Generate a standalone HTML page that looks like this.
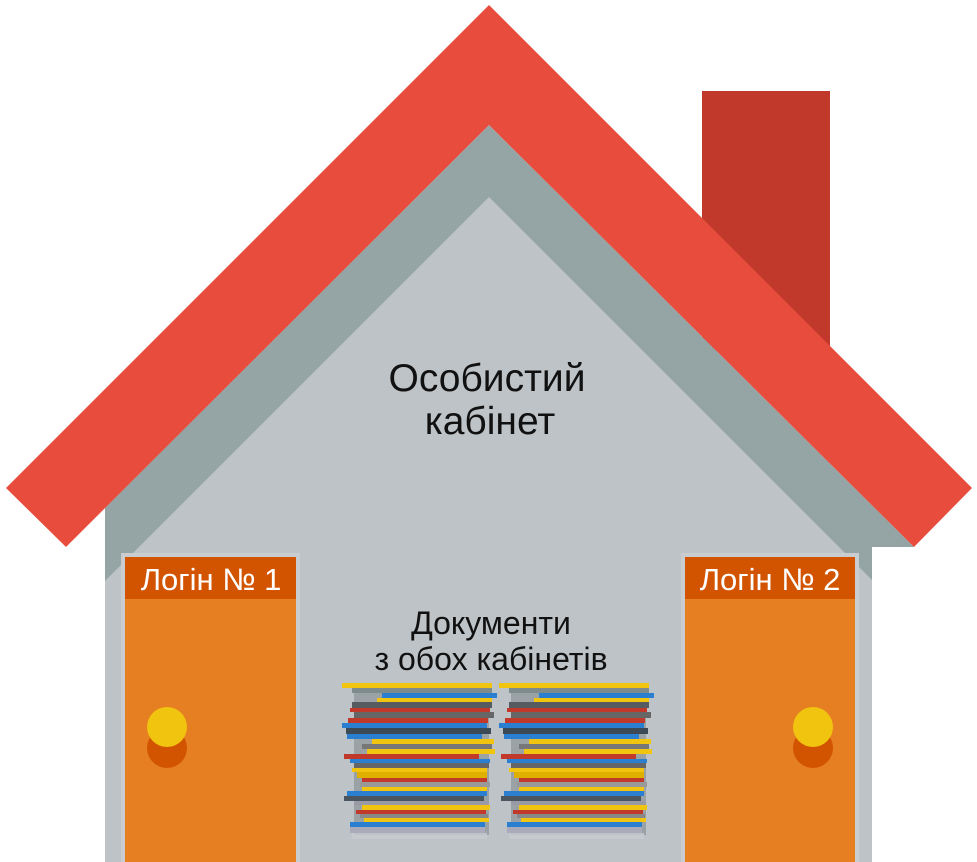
<!DOCTYPE html>
<html><head><meta charset="utf-8"><style>
html,body{margin:0;padding:0;background:#fff;width:977px;height:862px;overflow:hidden}
svg{display:block}
text{font-family:"Liberation Sans",sans-serif}
</style></head><body>
<svg width="977" height="862" viewBox="0 0 977 862" xmlns="http://www.w3.org/2000/svg">
<defs>
<g id="stack">
<rect x="12" y="2" width="135" height="150" fill="#5d6468" opacity=".35"/>
<rect x="0" y="0" width="150" height="5" fill="#f1c40f"/>
<rect x="10" y="5" width="140" height="5" fill="#7f8c8d"/>
<rect x="40" y="10" width="115" height="5" fill="#2a7fd0"/>
<rect x="35" y="15" width="115" height="4" fill="#f1c40f"/>
<rect x="10" y="19" width="140" height="6" fill="#555b60"/>
<rect x="8" y="25" width="140" height="4" fill="#c0392b"/>
<rect x="12" y="29" width="140" height="6" fill="#666"/>
<rect x="6" y="35" width="140" height="5" fill="#c0392b"/>
<rect x="0" y="40" width="145" height="5" fill="#2a7fd0"/>
<rect x="4" y="45" width="145" height="6" fill="#3c4a55"/>
<rect x="5" y="51" width="135" height="5" fill="#2a7fd0"/>
<rect x="30" y="56" width="122" height="5" fill="#f1c40f"/>
<rect x="20" y="61" width="130" height="5" fill="#777"/>
<rect x="25" y="66" width="128" height="5" fill="#f1c40f"/>
<rect x="2" y="71" width="135" height="5" fill="#c0392b"/>
<rect x="8" y="76" width="140" height="4" fill="#2a7fd0"/>
<rect x="12" y="80" width="135" height="5" fill="#666"/>
<rect x="10" y="85" width="135" height="4" fill="#f1c40f"/>
<rect x="15" y="89" width="130" height="6" fill="#e0b000"/>
<rect x="20" y="95" width="125" height="4" fill="#c0392b"/>
<rect x="18" y="99" width="130" height="5" fill="#999"/>
<rect x="20" y="104" width="125" height="4" fill="#f1c40f"/>
<rect x="5" y="108" width="140" height="5" fill="#2a7fd0"/>
<rect x="2" y="113" width="140" height="5" fill="#4a5560"/>
<rect x="12" y="118" width="135" height="4" fill="#999aa5"/>
<rect x="20" y="122" width="128" height="5" fill="#f1c40f"/>
<rect x="14" y="127" width="130" height="4" fill="#c0392b"/>
<rect x="18" y="131" width="128" height="4" fill="#888"/>
<rect x="22" y="135" width="125" height="4" fill="#f1c40f"/>
<rect x="8" y="139" width="135" height="5" fill="#2a7fd0"/>
<rect x="8" y="144" width="135" height="6" fill="#aab"/>
<rect x="10" y="150" width="135" height="6" fill="#c8ccd0" opacity=".8"/>
</g>
</defs>
<rect x="702" y="91" width="128" height="260" fill="#c0392b"/>
<polygon points="489,125 914,547 872,547 872,862 105,862 105,508" fill="#95a5a6"/>
<polygon points="489,197 872,580 872,862 105,862 105,581" fill="#bdc3c7"/>
<polygon points="489,5 972,488 914,547 489,125 66,547 6,488" fill="#e74c3c"/>
<text x="487" y="391" font-size="39" text-anchor="middle" fill="#111">Особистий</text>
<text x="490" y="434" font-size="39" text-anchor="middle" fill="#111">кабінет</text>
<text x="491" y="634" font-size="32" text-anchor="middle" fill="#111">Документи</text>
<text x="491" y="670" font-size="32" text-anchor="middle" fill="#111">з обох кабінетів</text>
<rect x="121" y="553" width="179" height="309" fill="#c9cdd0"/>
<rect x="125" y="557" width="171" height="305" fill="#e67e22"/>
<rect x="125" y="557" width="171" height="42" fill="#d35400"/>
<text x="211" y="590" font-size="31" text-anchor="middle" fill="#fff">Логін № 1</text>
<circle cx="167" cy="748" r="20" fill="#d35400"/>
<circle cx="167" cy="727" r="20" fill="#f1c40f"/>
<rect x="681" y="553" width="178" height="309" fill="#c9cdd0"/>
<rect x="685" y="557" width="170" height="305" fill="#e67e22"/>
<rect x="685" y="557" width="170" height="42" fill="#d35400"/>
<text x="770" y="590" font-size="31" text-anchor="middle" fill="#fff">Логін № 2</text>
<circle cx="813" cy="748" r="20" fill="#d35400"/>
<circle cx="813" cy="727" r="20" fill="#f1c40f"/>
<use href="#stack" x="342" y="683"/>
<use href="#stack" x="499" y="683"/>
</svg>
</body></html>
